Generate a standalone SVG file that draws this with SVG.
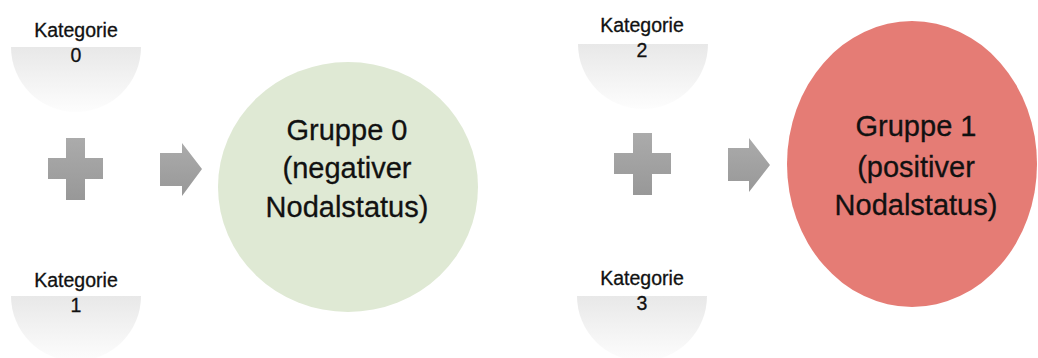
<svg xmlns="http://www.w3.org/2000/svg" width="1038" height="358" viewBox="0 0 1038 358">
<defs>
<linearGradient id="katGrad" x1="0" y1="0" x2="0" y2="1">
<stop offset="0" stop-color="#ffffff"/>
<stop offset="0.5" stop-color="#ffffff"/>
<stop offset="0.5" stop-color="#e8e8e8"/>
<stop offset="1" stop-color="#fdfdfd"/>
</linearGradient>
<linearGradient id="greyGrad" x1="0" y1="0" x2="0" y2="1">
<stop offset="0" stop-color="#ababab"/>
<stop offset="1" stop-color="#989898"/>
</linearGradient>
<style>
.kat{fill:url(#katGrad);}
.kt{font-family:"Liberation Sans",Arial,sans-serif;font-size:19.5px;fill:#111111;stroke:#111111;stroke-width:0.3;text-anchor:middle;}
.gt{font-family:"Liberation Sans",Arial,sans-serif;font-size:29px;fill:#111111;stroke:#111111;stroke-width:0.3;text-anchor:middle;}
.sym{fill:url(#greyGrad);}
</style>
</defs>
<rect width="1038" height="358" fill="#ffffff"/>

<g id="kategorie0">
<circle class="kat" cx="76" cy="47" r="65"/>
<text class="kt" x="76" y="37">Kategorie</text>
<text class="kt" x="76" y="62">0</text>
</g>
<g id="kategorie1">
<circle class="kat" cx="76" cy="296" r="65"/>
<text class="kt" x="76" y="287">Kategorie</text>
<text class="kt" x="76" y="312">1</text>
</g>
<g id="gruppe0">
<ellipse cx="348" cy="187" rx="130" ry="125" fill="#dfe9d4"/>
<text class="gt" x="347" y="140">Gruppe 0</text>
<text class="gt" x="347" y="178">(negativer</text>
<text class="gt" x="347" y="217">Nodalstatus)</text>
</g>
<g id="kategorie2">
<circle class="kat" cx="643" cy="44" r="65"/>
<text class="kt" x="642" y="32">Kategorie</text>
<text class="kt" x="642" y="57">2</text>
</g>
<g id="kategorie3">
<circle class="kat" cx="642" cy="296" r="65"/>
<text class="kt" x="642" y="285">Kategorie</text>
<text class="kt" x="642" y="310">3</text>
</g>
<g id="gruppe1">
<ellipse cx="912" cy="164" rx="125" ry="143" fill="#e57c75"/>
<text class="gt" x="916" y="136">Gruppe 1</text>
<text class="gt" x="916" y="177">(positiver</text>
<text class="gt" x="916" y="215">Nodalstatus)</text>
</g>

<g id="connectors">
<path class="sym" d="M66,138 H85 V158 H103 V179 H85 V200 H66 V179 H48 V158 H66 Z"/>
<path class="sym" d="M160,153 H182 V143 L202,169 L182,196 V186 H160 Z"/>
<path class="sym" d="M633,133 H652 V153 H671 V174 H652 V195 H633 V174 H614 V153 H633 Z"/>
<path class="sym" d="M728,148 H749 V138 L770,165 L749,192 V181 H728 Z"/>
</g>
</svg>
